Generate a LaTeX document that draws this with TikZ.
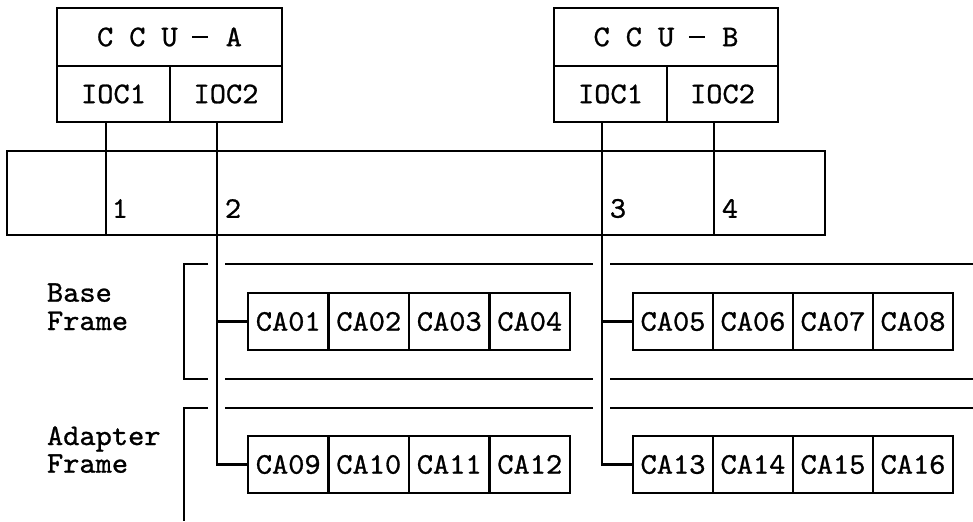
\documentclass[tikz,border=0pt]{standalone}
\usepackage{fontspec}
\usetikzlibrary{positioning}
\newfontfamily\cafont[FakeStretch=1.03, FakeBold=0.9]{lmmono10-regular.otf}
\newcommand\ccudash{\rule[6.2pt]{12pt}{1.5pt}}
\newcommand\ccuname[1]{C\hspace{12pt}C\hspace{12pt}U\hspace{11pt}\ccudash\hspace{13pt}#1}

\begin{document}
\begin{tikzpicture}[x=0.75pt, y=-0.75pt, line width=1.6pt,
  every node/.style={font=\cafont\fontsize{22.5}{26}\selectfont, inner sep=0pt, outer sep=0pt},
  cell/.style={draw, line width=1.6pt},
  cacell/.style={cell, minimum width=80.5*0.75pt, minimum height=57*0.75pt},
  lbl/.style={anchor=base west}]

\useasboundingbox (0,0) rectangle (973,521);

% channel control units
\node[cell, minimum width=225*0.75pt, minimum height=58*0.75pt] (ccua) at (169.5,37) {\ccuname{A}};
\node[cell, minimum width=113*0.75pt, minimum height=56*0.75pt] (ioc1a) at (113.5,94) {IOC1};
\node[cell, minimum width=112*0.75pt, minimum height=56*0.75pt] (ioc2a) at (226,94) {IOC2};

\node[cell, minimum width=224*0.75pt, minimum height=58*0.75pt] (ccub) at (666,37) {\ccuname{B}};
\node[cell, minimum width=113*0.75pt, minimum height=56*0.75pt] (ioc1b) at (610.5,94) {IOC1};
\node[cell, minimum width=111*0.75pt, minimum height=56*0.75pt] (ioc2b) at (722.5,94) {IOC2};

% channel bus
\node[cell, minimum width=818*0.75pt, minimum height=84*0.75pt] (bus) at (416,193) {};
\node (n1) at (120,208.5) {1};
\node (n2) at (233,208.5) {2};
\node (n3) at (618,208.5) {3};
\node (n4) at (730,208.5) {4};

% communication adapters
\node[cacell] (ca01) at (288.25,321.5) {CA01};
\node[cacell, right=0pt of ca01] (ca02) {CA02};
\node[cacell, right=0pt of ca02] (ca03) {CA03};
\node[cacell, right=0pt of ca03] (ca04) {CA04};
\node[cacell, minimum width=80*0.75pt] (ca05) at (673,321.5) {CA05};
\node[cacell, minimum width=80*0.75pt, right=0pt of ca05] (ca06) {CA06};
\node[cacell, minimum width=80*0.75pt, right=0pt of ca06] (ca07) {CA07};
\node[cacell, minimum width=80*0.75pt, right=0pt of ca07] (ca08) {CA08};

\node[cacell] (ca09) at (288.25,464.5) {CA09};
\node[cacell, right=0pt of ca09] (ca10) {CA10};
\node[cacell, right=0pt of ca10] (ca11) {CA11};
\node[cacell, right=0pt of ca11] (ca12) {CA12};
\node[cacell, minimum width=80*0.75pt] (ca13) at (673,464.5) {CA13};
\node[cacell, minimum width=80*0.75pt, right=0pt of ca13] (ca14) {CA14};
\node[cacell, minimum width=80*0.75pt, right=0pt of ca14] (ca15) {CA15};
\node[cacell, minimum width=80*0.75pt, right=0pt of ca15] (ca16) {CA16};

% frame labels
\node[lbl] (tb1) at (47,301.7) {Base};
\node[lbl] (tb2) at (47,330) {Frame};
\node[lbl] (ta1) at (47,445) {Adapter};
\node[lbl] (ta2) at (47,472.7) {Frame};

% channel lines
\coordinate (la1) at ([xshift=-5.6pt]ioc1a.south);
\coordinate (la2) at ([xshift=-6.75pt]ioc2a.south);
\coordinate (lb1) at ([xshift=-6.4pt]ioc1b.south);
\coordinate (lb2) at ([xshift=-6.4pt]ioc2b.south);
\draw (la1) -- (la1 |- bus.south);
\draw (lb2) -- (lb2 |- bus.south);
\draw (la2) |- (ca09.west);
\draw (la2 |- ca01.west) -- (ca01.west);
\draw (lb1) |- (ca13.west);
\draw (lb1 |- ca05.west) -- (ca05.west);

% frame outlines
\draw (208,264) -| (184,379) -- (208,379);
\draw (225,264) -- (593,264);  \draw (610,264) -- (973,264);
\draw (225,379) -- (593,379);  \draw (610,379) -- (973,379);
\draw (208,408) -| (184,521);
\draw (225,408) -- (593,408);  \draw (610,408) -- (973,408);
\end{tikzpicture}
\end{document}
